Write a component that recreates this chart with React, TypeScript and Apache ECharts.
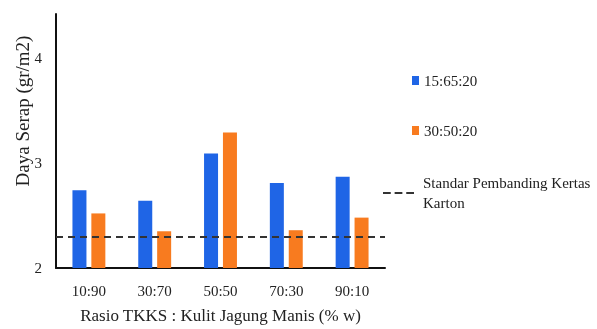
import React, { useEffect, useRef } from "react";
import * as echarts from "echarts";

// Absorption (Daya Serap) per TKKS : sweet-corn husk ratio
const categories = ["10:90", "30:70", "50:50", "70:30", "90:10"];
const seriesA = [2.74, 2.64, 3.09, 2.81, 2.87]; // 15:65:20
const seriesB = [2.52, 2.35, 3.29, 2.36, 2.48]; // 30:50:20
const standardValue = 2.3; // cardboard paper reference
const yTicks = [2, 3, 4];

const FONT = "serif";
const BLUE = "#1f65e6";
const ORANGE = "#f87b1f";
const DASH = "#333333";

export default function App() {
  const ref = useRef<HTMLDivElement>(null);

  useEffect(() => {
    if (!ref.current) return;
    const chart = echarts.init(ref.current, undefined, { renderer: "svg" });

    chart.setOption({
      animation: false,
      grid: { left: 56, right: 212, top: 14, bottom: 58 },
      legend: [
        {
          data: [{ name: "15:65:20", icon: "rect" }],
          left: 412,
          top: 73,
          padding: 0,
          orient: "vertical",
          itemWidth: 7,
          itemHeight: 9,
          textStyle: { fontFamily: FONT, fontSize: 15, color: "#222" },
          selectedMode: false,
        },
        {
          data: [{ name: "30:50:20", icon: "rect" }],
          left: 412,
          top: 123,
          padding: 0,
          orient: "vertical",
          itemWidth: 7,
          itemHeight: 9,
          textStyle: { fontFamily: FONT, fontSize: 15, color: "#222" },
          selectedMode: false,
        },
        {
          data: [
            {
              name: "Standar Pembanding Kertas\nKarton",
              icon: "path://M0,0H8V2H0ZM12,0H20V2H12ZM24,0H32V2H24Z",
              itemStyle: { color: DASH },
            },
          ],
          left: 383,
          top: 163,
          padding: 0,
          orient: "vertical",
          itemWidth: 31,
          itemHeight: 2,
          textStyle: {
            fontFamily: FONT,
            fontSize: 15,
            color: "#222",
            lineHeight: 20,
            padding: [20, 0, 0, 4],
          },
          selectedMode: false,
        },
      ],
      xAxis: {
        type: "category",
        data: categories,
        axisLine: { lineStyle: { color: "#111", width: 2 } },
        axisTick: { show: false },
        axisLabel: { fontFamily: FONT, fontSize: 15, color: "#222", margin: 15 },
        name: "Rasio TKKS : Kulit Jagung Manis (% w)",
        nameLocation: "middle",
        nameGap: 39,
        nameTextStyle: { fontFamily: FONT, fontSize: 17, color: "#222" },
      },
      yAxis: {
        type: "value",
        min: 2,
        max: 4.42,
        interval: 1,
        axisLine: { show: true, lineStyle: { color: "#111", width: 2 } },
        axisTick: { show: false },
        splitLine: { show: false },
        axisLabel: {
          fontFamily: FONT,
          fontSize: 15,
          color: "#222",
          margin: 14,
          formatter: (v: number) => (yTicks.includes(v) ? String(v) : ""),
        },
      },
      graphic: [
        {
          type: "text",
          x: 22,
          y: 111,
          rotation: Math.PI / 2,
          style: {
            text: "Daya Serap (gr/m2)",
            fontFamily: FONT,
            fontSize: 19,
            fill: "#222",
            align: "center",
            verticalAlign: "middle",
          },
        },
      ],
      series: [
        {
          name: "15:65:20",
          type: "bar",
          data: seriesA,
          barWidth: 14,
          barGap: "35%",
          itemStyle: { color: BLUE },
        },
        {
          name: "30:50:20",
          type: "bar",
          data: seriesB,
          barWidth: 14,
          itemStyle: { color: ORANGE },
        },
        {
          name: "Standar Pembanding Kertas\nKarton",
          type: "line",
          data: [],
          symbol: "none",
          lineStyle: { color: DASH, type: [6, 4], width: 2 },
          markLine: {
            silent: true,
            symbol: "none",
            label: { show: false },
            lineStyle: { color: DASH, type: [7, 5], width: 2 },
            data: [{ yAxis: standardValue }],
          },
        },
      ],
    });

    return () => chart.dispose();
  }, []);

  return <div ref={ref} style={{ position: "fixed", left: 0, top: 0, width: 597, height: 329 }} />;
}
